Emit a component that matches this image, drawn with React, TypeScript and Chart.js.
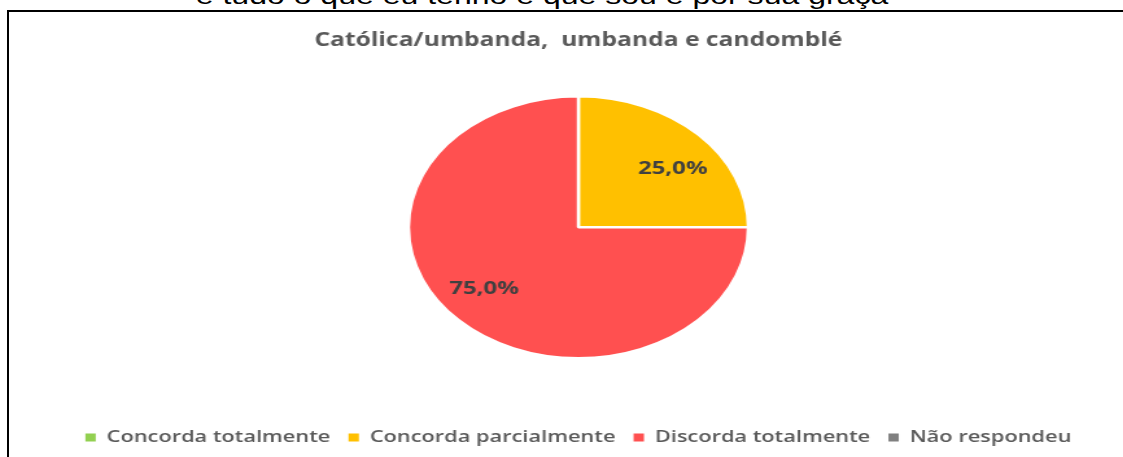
import { useEffect, useRef } from 'react';
import { Chart, registerables } from 'chart.js';

Chart.register(...registerables);

const categories = ['Concorda totalmente', 'Concorda parcialmente', 'Discorda totalmente', 'Não respondeu'];
const values = [0, 25, 75, 0];
const colors = ['#92D050', '#FFC000', '#FF5050', '#808080'];
const chartTitle = 'Católica/umbanda,  umbanda e candomblé';
const headerText = 'e tudo o que eu tenho e que sou é por sua graça';

const FONT = "'Open Sans', 'Noto Sans', sans-serif";
const SX = 1.297; // horizontal stretch of the original picture
const CW = 876;
const CH = 445;
const LABEL_ANGLE_OFFSET = (5.5 * Math.PI) / 180;
const LABEL_RADIUS = 0.72;

function fmtPct(v: number, total: number) {
  return ((v / total) * 100).toFixed(1).replace('.', ',') + '%';
}

export default function App() {
  const ref = useRef<HTMLCanvasElement>(null);

  useEffect(() => {
    const canvas = ref.current!;
    const labelPlugin = {
      id: 'sliceLabels',
      afterDatasetsDraw(chart: any) {
        const ctx = chart.ctx;
        const meta = chart.getDatasetMeta(0);
        const data = chart.data.datasets[0].data as number[];
        const total = data.reduce((a, b) => a + b, 0);
        ctx.save();
        ctx.font = `bold 18.5px ${FONT}`;
        ctx.fillStyle = '#404040';
        ctx.textAlign = 'center';
        ctx.textBaseline = 'middle';
        meta.data.forEach((arc: any, i: number) => {
          const v = data[i];
          if (!v) return;
          const p = arc.getProps(['x', 'y', 'startAngle', 'endAngle', 'outerRadius'], true);
          const mid = (p.startAngle + p.endAngle) / 2 + LABEL_ANGLE_OFFSET;
          const r = p.outerRadius * LABEL_RADIUS;
          ctx.fillText(fmtPct(v, total), p.x + Math.cos(mid) * r, p.y + Math.sin(mid) * r + 1);
        });
        ctx.restore();
      },
    };

    const chart = new Chart(canvas, {
      type: 'pie',
      data: {
        labels: categories,
        datasets: [
          {
            data: values,
            backgroundColor: colors,
            borderColor: '#ffffff',
            borderWidth: 2.5,
          },
        ],
      },
      options: {
        responsive: false,
        animation: false,
        radius: 131,
        layout: { padding: { bottom: 1, left: 2 } },
        plugins: {
          title: {
            display: true,
            text: chartTitle,
            color: '#595959',
            font: { family: FONT, size: 19.0, weight: 'bold', lineHeight: 1.2 },
            padding: { top: 17.6, bottom: 0 },
          },
          legend: {
            position: 'bottom',
            title: { display: true, text: '', padding: 0, font: { size: 10.75, lineHeight: 1.2 } },
            labels: {
              boxWidth: 8,
              boxHeight: 8,
              padding: 14,
              color: '#595959',
              font: { family: FONT, size: 16.8, weight: '600' },
              generateLabels: (c: any) => {
                const items = (Chart as any).overrides.pie.plugins.legend.labels.generateLabels(c);
                return items.map((it: any) => ({ ...it, lineWidth: 0, strokeStyle: 'rgba(0,0,0,0)' }));
              },
            },
          },
          tooltip: { enabled: false },
        },
      } as any,
      plugins: [labelPlugin],
    });
    return () => chart.destroy();
  }, []);

  return (
    <div
      style={{
        position: 'absolute',
        left: 0,
        top: 0,
        width: 1123,
        height: 457,
        overflow: 'hidden',
        background: '#ffffff',
      }}
    >
      <div
        style={{
          position: 'absolute',
          left: 0,
          top: -16,
          width: 1084,
          textAlign: 'center',
          fontFamily: "'Liberation Sans', Arial, sans-serif",
          fontSize: 24.7,
          lineHeight: '24px',
          whiteSpace: 'nowrap',
          color: '#000',
          transform: `scaleX(${SX})`,
        }}
      >
        {headerText}
      </div>
      <div
        style={{
          position: 'absolute',
          left: 7,
          top: 10,
          width: 1120,
          height: 460,
          borderLeft: '2px solid #000',
          borderTop: '2px solid #000',
          boxSizing: 'border-box',
          background: 'transparent',
        }}
      />
      <canvas
        ref={ref}
        width={CW}
        height={CH}
        style={{
          position: 'absolute',
          left: 9,
          top: 12,
          display: 'block',
          transform: `scaleX(${SX})`,
          transformOrigin: '0 0',
        }}
      />
    </div>
  );
}
